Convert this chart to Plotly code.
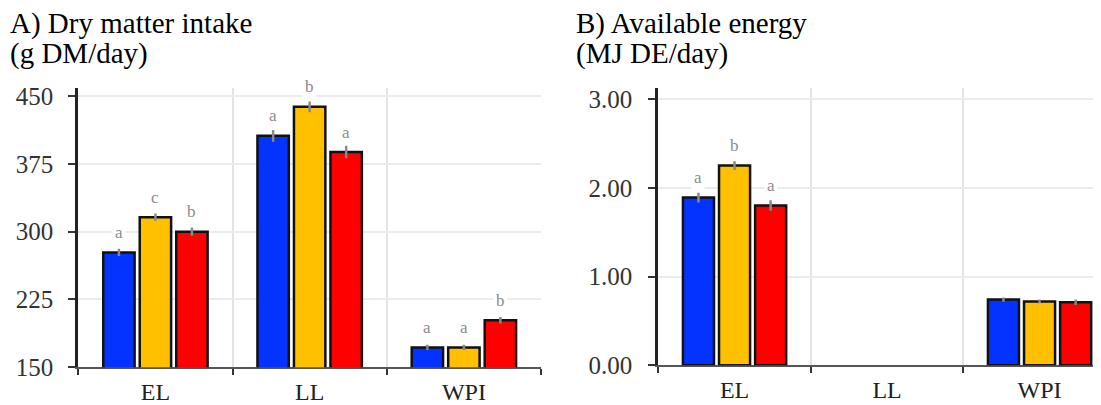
import plotly.graph_objects as go

# ---------------- data ----------------
categories = ["EL", "LL", "WPI"]
series_names = ["Blue", "Yellow", "Red"]
series_colors = ["#0433FF", "#FFC000", "#FF0000"]

# Panel A: Dry matter intake (g DM/day)
dmi_blue = [277, 406, 172]
dmi_yellow = [316, 438, 172]
dmi_red = [300, 388, 202]
dmi_blue_err = [4, 6.5, 3]
dmi_yellow_err = [4, 6, 3]
dmi_red_err = [4.5, 7, 3.5]
dmi_blue_lbl = ["a", "a", "a"]
dmi_yellow_lbl = ["c", "b", "a"]
dmi_red_lbl = ["b", "a", "b"]

# Panel B: Available energy (MJ DE/day)
de_blue = [1.89, None, 0.74]
de_yellow = [2.25, None, 0.72]
de_red = [1.80, None, 0.71]
de_blue_err = [0.055, 0, 0.025]
de_yellow_err = [0.05, 0, 0.02]
de_red_err = [0.06, 0, 0.03]
de_blue_lbl = ["a", "", ""]
de_yellow_lbl = ["b", "", ""]
de_red_lbl = ["a", "", ""]

dmi_ticks = [150, 225, 300, 375, 450]
de_ticks = [0, 1, 2, 3]

title_a = ["A) Dry matter intake", "(g DM/day)"]
title_b = ["B) Available energy", "(MJ DE/day)"]

# ---------------- figure ----------------
W, H = 1101, 405
OX, OY = 8, 8          # page body margin of the browser
BARGAP = 0.29
BARGROUPGAP = 0.14
SERIF = "Liberation Serif"


def fx(p):
    return (p - OX) / W


def fy(p):
    return 1 - (p - OY) / H


fig = go.Figure()

panels = [
    ("x", "y", [dmi_blue, dmi_yellow, dmi_red],
     [dmi_blue_err, dmi_yellow_err, dmi_red_err],
     [dmi_blue_lbl, dmi_yellow_lbl, dmi_red_lbl]),
    ("x2", "y2", [de_blue, de_yellow, de_red],
     [de_blue_err, de_yellow_err, de_red_err],
     [de_blue_lbl, de_yellow_lbl, de_red_lbl]),
]

annotations = []
for xa, ya, vals, errs, lbls in panels:
    for j, (name, col) in enumerate(zip(series_names, series_colors)):
        fig.add_trace(go.Bar(
            x=categories, y=vals[j], name=name, xaxis=xa, yaxis=ya,
            marker=dict(color=col, line=dict(color="#111111", width=2.5)),
            error_y=dict(type="data", array=errs[j], color="#8a8a8a",
                         thickness=2.5, width=0),
            showlegend=False, hoverinfo="skip",
        ))
        slot = (1 - BARGAP) / len(series_names)
        for i, (v, e, t) in enumerate(zip(vals[j], errs[j], lbls[j])):
            if v is None or not t:
                continue
            annotations.append(dict(
                x=i + (j - 1) * slot, y=v, xref=xa, yref=ya,
                text=t, showarrow=False, yanchor="middle", yshift=20,
                font=dict(family=SERIF, size=17, color="#8c8c8c"),
                bgcolor="white", borderpad=2,
            ))

# titles
for lines, x0 in [(title_a, 9), (title_b, 575)]:
    for k, line in enumerate(lines):
        annotations.append(dict(
            x=fx(x0), y=fy(6 + 30 * k), xref="paper", yref="paper",
            xanchor="left", yanchor="top", text=line, showarrow=False,
            font=dict(family=SERIF, size=29, color="#000000"),
            borderpad=0,
        ))

xcommon = dict(
    type="category", showline=True, linecolor="#555555", linewidth=2,
    ticks="outside", tickson="boundaries", ticklen=6, tickwidth=2,
    tickcolor="#333333", showgrid=True, gridcolor="#e4e4e4", gridwidth=2,
    tickfont=dict(family=SERIF, size=24, color="#222222"),
    ticklabelstandoff=2, zeroline=False, fixedrange=True, automargin=False,
    layer="below traces",
)
ycommon = dict(
    showline=True, linecolor="#222222", linewidth=3, ticks="outside",
    ticklen=7, tickwidth=2, tickcolor="#333333", showgrid=True,
    gridcolor="#ebebeb", gridwidth=2, zeroline=False,
    tickfont=dict(family=SERIF, size=25, color="#333333"),
    fixedrange=True, automargin=False, layer="below traces",
)

fig.update_layout(
    width=W, height=H,
    margin=dict(l=0, r=0, t=0, b=0),
    paper_bgcolor="white", plot_bgcolor="white",
    barmode="group", bargap=BARGAP, bargroupgap=BARGROUPGAP,
    xaxis=dict(xcommon, domain=[fx(78.3), fx(541)], anchor="y",
               range=[-0.5, 2.5]),
    yaxis=dict(ycommon, domain=[fy(367.3), fy(88)], anchor="x",
               range=[150, 458.8], tickvals=dmi_ticks,
               ticktext=[str(t) for t in dmi_ticks], ticklabelstandoff=10),
    xaxis2=dict(xcommon, domain=[fx(658.3), 1.0], anchor="y2",
                range=[-0.5, -0.5 + (W + OX - 658.3) / 152.5]),
    yaxis2=dict(ycommon, domain=[fy(365.3), fy(87.5)],
                anchor="x2", range=[0, 3.13], tickvals=de_ticks,
                tickformat=".2f", ticklabelstandoff=11),
    annotations=annotations,
)

fig.write_html("out.html")
